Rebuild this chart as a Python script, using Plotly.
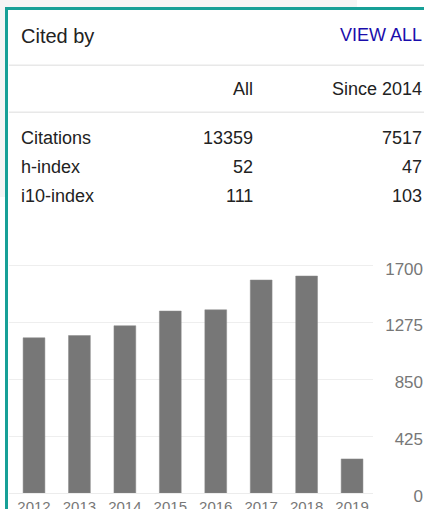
import plotly.graph_objects as go

years = ["2012", "2013", "2014", "2015", "2016", "2017", "2018", "2019"]
citations = [1161, 1178, 1251, 1361, 1370, 1593, 1623, 255]
tick_vals = [0, 425, 850, 1275, 1700]
tick_text = ["0", "425", "850", "1275", "1700"]

row_labels = ["Citations", "h-index", "i10-index"]
all_vals = ["13359", "52", "111"]
since_vals = ["7517", "47", "103"]
col_headers = ["All", "Since 2014"]

W, H = 424, 509
ML, MR, MT, MB = 9, 1, 250, 16
PW = W - ML - MR
PH = H - MT - MB
plot_right = 372.5
xdom = (plot_right - ML) / PW

def px(x):
    return (x - ML) / PW

def py(y):
    return (H - MB - y) / PH

FONT = "Liberation Sans, Arial, sans-serif"
TXT = "#222222"

fig = go.Figure()
fig.add_trace(go.Bar(
    x=years, y=citations,
    marker=dict(color="#777777", line=dict(color="#8a8a8a", width=0.5)),
    width=0.48,
    hoverinfo="x+y",
))

annotations = []
def txt(x, y, s, size=18, color=TXT, anchor="left"):
    annotations.append(dict(
        x=px(x), y=py(y), xref="paper", yref="paper", text=s, showarrow=False,
        xanchor=anchor, yanchor="middle",
        font=dict(family=FONT, size=size, color=color),
    ))

txt(19, 36, "Cited by", size=20)
txt(423.5, 35, "VIEW ALL", size=18, color="#1a0dab", anchor="right")
txt(254.5, 89, col_headers[0], anchor="right")
txt(423.5, 89, col_headers[1], anchor="right")
row_y = [138, 167, 196]
for lab, a, s, yy in zip(row_labels, all_vals, since_vals, row_y):
    txt(19, yy, lab)
    txt(254.5, yy, a, anchor="right")
    txt(423.5, yy, s, anchor="right")

shapes = []
def rect(x0, y0, x1, y1, color):
    shapes.append(dict(type="rect", xref="paper", yref="paper",
                       x0=px(x0), x1=px(x1), y0=py(y1), y1=py(y0),
                       fillcolor=color, line=dict(width=0), layer="below"))

# outer light-gray page area
rect(0, 0, 357, 7, "#f5f5f5")
rect(0, 0, 5, 197, "#f5f5f5")
# teal border
rect(5, 7, 424, 10, "#17a097")
rect(5, 7, 8, 509, "#17a097")
# separators
rect(9, 64.5, 424, 66, "#e8e8e8")
rect(9, 111.5, 424, 113, "#e8e8e8")

fig.update_layout(
    width=W, height=H,
    margin=dict(l=ML, r=MR, t=MT, b=MB, pad=0),
    paper_bgcolor="white", plot_bgcolor="white",
    showlegend=False,
    bargap=0.52,
    annotations=annotations,
    shapes=shapes,
    xaxis=dict(
        domain=[0, xdom], range=[-0.55, 7.45], type="category",
        showgrid=False, showline=True, linecolor="#ececec", linewidth=1,
        ticks="", tickfont=dict(family=FONT, size=15, color="#777777"),
        automargin=False, fixedrange=True, zeroline=False,
    ),
    yaxis=dict(
        range=[0, 1700 * PH / 227.3], anchor="free", position=1.0, side="left",
        tickvals=tick_vals, ticktext=tick_text,
        showgrid=True, gridcolor="#eeeeee", gridwidth=1,
        zeroline=False, showline=False, ticks="",
        tickfont=dict(family=FONT, size=17, color="#777777"),
        ticklabelshift=3,
        automargin=False, fixedrange=True,
    ),
)

fig.write_html(
    "out.html",
    config=dict(displayModeBar=False),
    post_script="document.body.style.margin='0';document.body.style.overflow='hidden';",
)
